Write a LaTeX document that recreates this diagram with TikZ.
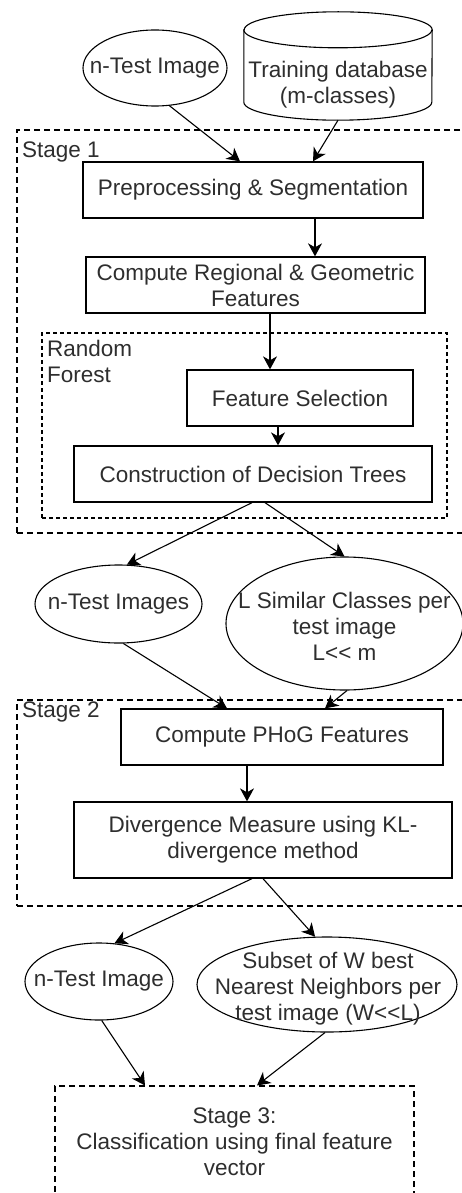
\documentclass[tikz,border=0pt]{standalone}
\usepackage{fontspec}
\setmainfont{Liberation Sans}
\usetikzlibrary{shapes.geometric,arrows.meta,calc}
\definecolor{txtc}{HTML}{2E2E2E}
\tikzset{
 procbox/.style={draw, line width=1.3pt, rectangle, inner sep=0pt, align=center, text=txtc, font=\fontsize{22.5}{26}\selectfont},
 ell/.style={draw, ellipse, line width=1.1pt, inner sep=0pt},
 txt/.style={align=center, text=txtc, font=\fontsize{22.5}{26}\selectfont, inner sep=0pt},
 stagebox/.style={draw, dash pattern=on 6pt off 4pt, line width=1.1pt, inner sep=0pt, align=center, text=txtc, font=\fontsize{22.5}{26}\selectfont},
 rfbox/.style={draw, dash pattern=on 4pt off 3pt, line width=1.1pt, inner sep=0pt},
 arr/.style={-{Stealth[length=13pt,width=14pt,inset=4pt]}, line width=1.1pt},
}
\begin{document}
\begin{tikzpicture}[x=1pt,y=1pt]
\clip (0,0) rectangle (462,-1193);
\fill[white] (0,0) rectangle (462,-1193);

% containers
\node[stagebox, minimum width=460pt, minimum height=403pt] (st1) at (247,-331.5) {};
\node[txt, anchor=west] (st1l) at (22,-152) {Stage 1};
\node[rfbox, minimum width=405pt, minimum height=185pt] (rf) at (244.5,-425.5) {};
\node[txt, anchor=north west, align=left] (rfl) at (47,-340) {Random\\Forest};
\node[stagebox, minimum width=460pt, minimum height=206pt] (st2) at (247,-803) {};
\node[txt, anchor=west] (st2l) at (22,-712) {Stage 2};
\node[stagebox, minimum width=359pt, minimum height=112pt] (st3) at (234.5,-1142) {Stage 3:\\Classification using final feature\\vector};

% inputs
\node[ell, minimum width=144pt, minimum height=76pt] (te1) at (155,-68) {};
\node[txt] (te1t) at (te1) {n-Test Image};
\node[minimum width=188pt, minimum height=108pt, inner sep=0pt] (db) at (338,-66) {};
\draw[line width=1.1pt, fill=white]
  ([yshift=-18pt]db.north west) -- ([yshift=18pt]db.south west)
  arc[start angle=180, end angle=360, x radius=94pt, y radius=18pt]
  -- ([yshift=-18pt]db.north east)
  arc[start angle=0, end angle=180, x radius=94pt, y radius=18pt] -- cycle;
\draw[line width=1.1pt] ([yshift=-18pt]db.north west)
  arc[start angle=180, end angle=360, x radius=94pt, y radius=18pt];
\node[txt] (dbt) at (338,-84.5) {Training database\\(m-classes)};

% stage 1
\node[procbox, minimum width=340pt, minimum height=56pt] (pre) at (253,-190) {Preprocessing \& Segmentation};
\node[procbox, minimum width=339pt, minimum height=56pt] (crf) at (255.5,-285) {Compute Regional \& Geometric\\Features};
\node[procbox, minimum width=226pt, minimum height=56pt] (fs) at (300,-398) {Feature Selection};
\node[procbox, minimum width=358pt, minimum height=56pt] (cdt) at (253,-474) {Construction of Decision Trees};

% middle ellipses
\node[ell, minimum width=167pt, minimum height=78pt] (te2) at (118.5,-604) {};
\node[txt] (te2t) at (te2) {n-Test Images};
\node[ell, minimum width=237pt, minimum height=133pt] (lsim) at (344.5,-623.5) {};
\node[txt] (lsimt) at (344.5,-626) {L Similar Classes per\\test image\\L<{}< m};

% stage 2
\node[procbox, minimum width=322pt, minimum height=56pt] (phog) at (282,-737) {Compute PHoG Features};
\node[procbox, minimum width=378pt, minimum height=76pt] (div) at (263,-840) {Divergence Measure using KL-\\divergence method};

% bottom ellipses
\node[ell, minimum width=148pt, minimum height=77pt] (te3) at (99,-981.5) {};
\node[txt] (te3t) at (te3) {n-Test Image};
\node[ell, minimum width=260pt, minimum height=95pt] (sub) at (327,-984.5) {};
\node[txt] (subt) at (328,-989) {Subset of W best\\Nearest Neighbors per\\test image (W<{}<L)};

% arrows
\draw[arr] (te1.-69) -- ([xshift=-13pt]pre.north);
\draw[arr] (db.south) -- ([xshift=60pt]pre.north);
\draw[arr] ([xshift=62pt]pre.south) -- ([xshift=59.5pt]crf.north);
\draw[arr] ([xshift=14.5pt]crf.south) -- ([xshift=-30pt]fs.north);
\draw[arr] ([xshift=-22pt]fs.south) -- ([xshift=25pt]cdt.north);
\draw[arr] ([xshift=-1pt]cdt.south) -- (te2.78);
\draw[arr] ([xshift=12pt]cdt.south) -- (lsim.north);
\draw[arr] (te2.-83) -- ([xshift=-55pt]phog.north);
\draw[arr] ([xshift=2.5pt]lsim.south) -- ([xshift=43pt]phog.north);
\draw[arr] ([xshift=-35pt]phog.south) -- ([xshift=-16pt]div.north);
\draw[arr] ([xshift=-11pt]div.south) -- (te3.68);
\draw[arr] (div.south) -- (sub.104);
\draw[arr] (te3.-86) -- ([xshift=-89.5pt]st3.north);
\draw[arr] ([xshift=-2pt]sub.south) -- ([xshift=22.5pt]st3.north);
\end{tikzpicture}
\end{document}
